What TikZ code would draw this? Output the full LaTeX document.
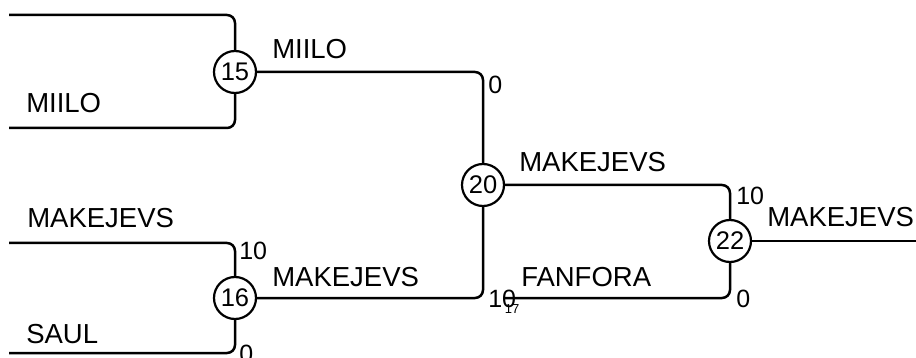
\documentclass[tikz,border=0pt]{standalone}
\usepackage{fontspec}
\setmainfont{Liberation Sans}
\usetikzlibrary{positioning}

\begin{document}
\begin{tikzpicture}[
    x=1pt, y=-1pt,
    line width=2.5pt,
    rounded corners=8pt,
    every node/.style={font=\fontsize{27.5}{30}\selectfont},
    game/.style={circle, draw, line width=2.2pt, minimum size=42pt, inner sep=0pt, font=\fontsize{25.5}{28}\selectfont},
    team/.style={anchor=base west, inner sep=0pt},
    score/.style={anchor=north west, inner sep=0pt, font=\fontsize{25}{28}\selectfont},
    hv/.style={to path={-| (\tikztotarget)}}
]
    \useasboundingbox (0,0) rectangle (916,358);

    % Matches as circles
    \node[game] (m15) at (235,72) {15};
    \node[game] (m16) at (235,298) {16};
    \node[game] (m20) at (483,185) {20};
    \node[game] (m22) at (730,241) {22};

    % Free ends of the bracket
    \coordinate (in15a) at (9,15);
    \coordinate (in15b) at (9,128);
    \coordinate (in16a) at (9,243);
    \coordinate (in16b) at (9,353);
    \coordinate (in22b) at (505,298);
    \coordinate (out22) at (916,241);

    % Connectors
    \path[draw]
        (in15a) edge[hv] (m15)
        (in15b) edge[hv] (m15)
        (in16a) edge[hv] (m16)
        (in16b) edge[hv] (m16)
        (m15) edge[hv] (m20)
        (m16) edge[hv] (m20)
        (m20) edge[hv] (m22)
        (in22b) edge[hv] (m22)
        (m22) edge (out22);

    % Team names
    \node[team] (t15b) at (25,113) {MIILO};
    \node[team] (t16a) at (26,228) {MAKEJEVS};
    \node[team] (t16b) at (25,343) {SAUL};
    \node[team] (t15) at (271,59) {MIILO};
    \node[team] (t16) at (271,287) {MAKEJEVS};
    \node[team] (t20) at (518,172) {MAKEJEVS};
    \node[team] (t22b) at (520,287) {FANFORA};
    \node[team] (t22) at (766,227) {MAKEJEVS};

    % Scores
    \node[score] (s16a) at (238,241) {10};
    \node[score] (s16b) at (238,344) {0};
    \node[score] (s15) at (487,75) {0};
    \node[score] (s16) at (487,289) {10};
    \node[score] (s20) at (735,186) {10};
    \node[score] (s22b) at (735,289) {0};
    \node[font=\fontsize{13}{14}\selectfont, inner sep=0pt] (n17) at (512,309) {17};
\end{tikzpicture}
\end{document}
